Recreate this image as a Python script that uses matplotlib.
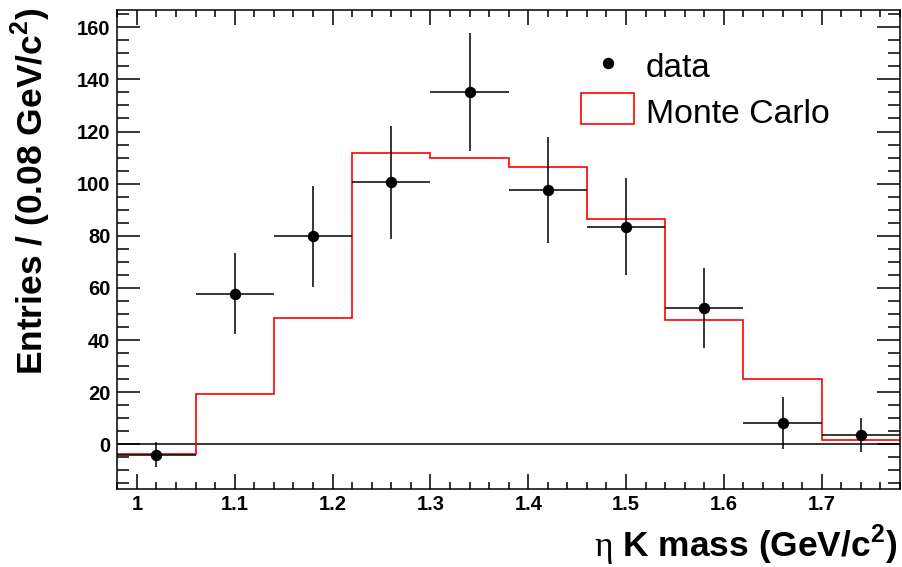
import matplotlib
matplotlib.use("Agg")
import matplotlib.pyplot as plt
from matplotlib.ticker import MultipleLocator, FormatStrFormatter
from matplotlib.patches import Rectangle
from matplotlib.lines import Line2D

# bins of 0.08 GeV/c^2
bin_edges = [0.98, 1.06, 1.14, 1.22, 1.30, 1.38, 1.46, 1.54, 1.62, 1.70, 1.78]
bin_centers = [1.02, 1.10, 1.18, 1.26, 1.34, 1.42, 1.50, 1.58, 1.66, 1.74]
half_width = [0.04] * 10

data_y = [-4.0, 57.8, 79.8, 100.5, 135.3, 97.6, 83.5, 52.3, 8.2, 3.5]
data_err = [4.8, 15.5, 19.4, 21.8, 22.6, 20.3, 18.5, 15.3, 9.8, 6.5]

mc_y = [-3.8, 19.2, 48.4, 111.7, 110.0, 106.4, 86.4, 47.6, 25.0, 1.5]

plt.rcParams['font.family'] = ['Liberation Sans', 'DejaVu Sans']
plt.rcParams['mathtext.fontset'] = 'custom'
plt.rcParams['mathtext.rm'] = 'Liberation Serif'
plt.rcParams['mathtext.bf'] = 'Liberation Sans:bold'

fig = plt.figure(figsize=(9.02, 5.67), dpi=100)
ax = fig.add_axes([117.3 / 902, 1 - 488.7 / 567, (900 - 117.3) / 902, (488.7 - 10) / 567])

ax.axhline(0, color='black', lw=1.1, zorder=1)
ax.stairs(mc_y, bin_edges, baseline=None, color='#ff0000', lw=1.2, zorder=2)
ax.errorbar(bin_centers, data_y, xerr=half_width, yerr=data_err, fmt='o',
            color='black', ms=7.2, elinewidth=1.1, capsize=0, zorder=3)

ax.set_xlim(0.98, 1.78)
ax.set_ylim(-17.0, 166.6)

ax.xaxis.set_major_locator(MultipleLocator(0.1))
ax.xaxis.set_minor_locator(MultipleLocator(0.02))
ax.yaxis.set_major_locator(MultipleLocator(20))
ax.yaxis.set_minor_locator(MultipleLocator(5))
ax.xaxis.set_major_formatter(FormatStrFormatter('%g'))

ax.tick_params(axis='both', which='both', direction='in', width=1.1, colors='black')
ax.tick_params(axis='y', which='major', length=16.5, right=True, pad=5)
ax.tick_params(axis='y', which='minor', length=8.5, right=True)
ax.tick_params(axis='x', which='major', length=10.5, top=True, pad=4.5)
ax.tick_params(axis='x', which='minor', length=5, top=True)
for lab in ax.get_xticklabels() + ax.get_yticklabels():
    lab.set_fontsize(14.5)
    lab.set_fontweight('bold')
for sp in ax.spines.values():
    sp.set_linewidth(1.1)

fig.text(0.0344, 0.986, r"Entries / (0.08 GeV/c$^{\mathbf{2}}$)", rotation=90,
         ha='center', va='top', fontsize=25.5, fontweight='bold')
fig.text(897 / 902, 1 - 556.5 / 567, r"$\mathrm{\eta}$ K mass (GeV/c$^{\mathbf{2}}$)",
         ha='right', va='baseline', fontsize=25.5, fontweight='bold')

# legend drawn by hand, no frame
ax.add_line(Line2D([0.6273], [0.8887], marker='o', ms=7.2, color='black',
                   transform=ax.transAxes))
ax.text(0.675, 0.8607, "data", transform=ax.transAxes, fontsize=24, va='baseline')
ax.add_patch(Rectangle((0.5923, 0.7612), 0.0678, 0.066, transform=ax.transAxes,
                       fill=False, edgecolor='#ff0000', lw=1.2))
ax.text(0.675, 0.7646, "Monte Carlo", transform=ax.transAxes, fontsize=24.3, va='baseline')

fig.savefig("out.png", dpi=100)
